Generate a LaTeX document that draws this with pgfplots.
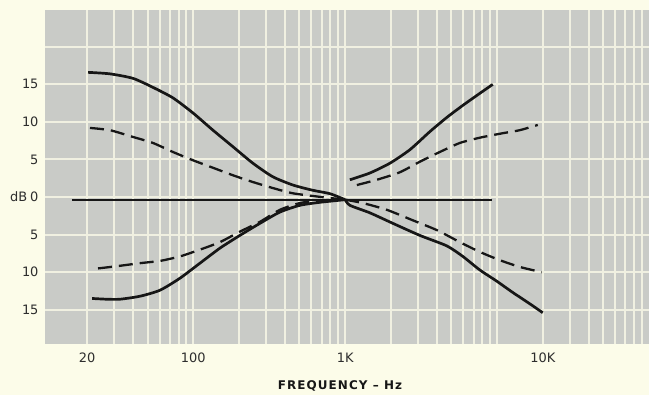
\documentclass[border=0pt]{standalone}
\usepackage{fontspec}
\setmainfont{DejaVu Sans}
\newfontfamily\labfont[LetterSpace=9]{DejaVu Sans}
\usepackage{pgfplots}
\pgfplotsset{compat=1.18}
\definecolor{cream}{RGB}{252,252,233}
\definecolor{panel}{RGB}{201,203,199}
\definecolor{gridc}{RGB}{240,240,225}
\definecolor{ink}{RGB}{22,22,22}
\begin{document}
\begin{tikzpicture}
\path[use as bounding box, fill=cream] (-45bp,-51bp) rectangle (604bp,344bp);
\begin{axis}[
  at={(0,0)}, anchor=south west, scale only axis,
  width=604bp, height=334bp,
  xmode=log, xmin=10.57, xmax=100000, ymin=-19.56, ymax=24.9,
  axis background/.style={fill=panel},
  axis line style={draw=none},
  xtick={20,100,1000,20000}, xticklabels={20,100,1K,10K},
  minor xtick={20,30,40,50,60,70,80,90,100,200,300,400,500,600,700,800,900,1000,2000,3000,4000,5000,6000,7000,8000,9000,10000,20000,30000,40000,50000,60000,70000,80000,90000},
  ytick={-15,-10,-5,0,5,10,15,20},
  yticklabels={15,10,5,{dB\hspace{3bp}0},5,10,15,{}},
  xmajorgrids=false, xminorgrids=true, ymajorgrids=true,
  major grid style={gridc, line width=2bp},
  minor grid style={gridc, line width=2bp},
  major tick length=0pt, minor tick length=0pt,
  tick style={draw=none},
  ticklabel style={font=\fontsize{13}{15}\selectfont, text=ink!90},
  xticklabel style={anchor=center, yshift=-14bp},
  yticklabel style={anchor=east, xshift=-3bp},
  clip=true,
]
% flat response
\addplot[ink, line width=2bp] coordinates {(15.9,-0.35) (9226,-0.35)};
% bass boost, full
\addplot[ink, line width=2.7bp, smooth, tension=0.4] coordinates {
(20.3,16.6) (28.3,16.4) (40.1,15.8) (54.3,14.6) (73.5,13.2) (99.5,11.2) (134.8,8.9) (182.5,6.7) (247,4.5) (334,2.7) (453,1.6) (613,0.9) (793,0.45) (1000,-0.35)};
% bass boost, half
\addplot[ink, line width=2.3bp, dash pattern=on 14bp off 7bp, smooth, tension=0.4] coordinates {
(20.9,9.2) (28.3,8.9) (40.1,8.0) (54.3,7.2) (73.5,6.0) (99.5,4.9) (134.8,3.9) (182.5,2.9) (247,2.0) (334,1.2) (453,0.5) (700,0.0) (1000,-0.35)};
% bass cut, half
\addplot[ink, line width=2.3bp, dash pattern=on 14bp off 7bp, smooth, tension=0.4] coordinates {
(23.6,-9.5) (31.5,-9.2) (44.6,-8.8) (60.4,-8.5) (81.8,-7.9) (110.7,-7.0) (149.9,-6.0) (202.9,-4.6) (274.7,-3.3) (371.8,-1.7) (503.5,-0.8) (682,-0.45) (1000,-0.35)};
% bass cut, full
\addplot[ink, line width=2.7bp, smooth, tension=0.4] coordinates {
(21.6,-13.5) (27.0,-13.6) (32.9,-13.6) (44.6,-13.2) (60.4,-12.4) (81.8,-10.8) (110.7,-8.8) (149.9,-6.8) (202.9,-5.1) (274.7,-3.5) (371.8,-2.0) (503.5,-1.1) (682,-0.7) (1000,-0.35)};
% treble boost, full
\addplot[ink, line width=2.7bp, smooth, tension=0.4] coordinates {
(1074,2.3) (1454,3.2) (1968,4.5) (2666,6.3) (3606,8.7) (4668,10.6) (5947,12.2) (7691,13.8) (9370,15.0)};
% treble boost, half
\addplot[ink, line width=2.3bp, dash pattern=on 14bp off 7bp, smooth, tension=0.4] coordinates {
(1194,1.6) (1616,2.3) (2291,3.3) (3098,4.7) (4199,6.0) (5687,7.2) (7691,7.9) (10900,8.5) (14093,8.9) (18525,9.6)};
% treble cut, half
\addplot[ink, line width=2.3bp, dash pattern=on 14bp off 7bp, smooth, tension=0.4] coordinates {
(1000,-0.35) (1307,-0.8) (1881,-1.7) (2792,-3.1) (4011,-4.4) (5687,-6.0) (7691,-7.3) (10418,-8.4) (14093,-9.3) (19679,-10.0)};
% treble cut, full
\addplot[ink, line width=2.7bp, smooth, tension=0.4] coordinates {
(1000,-0.35) (1074,-1.1) (1454,-2.1) (2061,-3.5) (3098,-5.1) (4668,-6.5) (5947,-7.9) (7691,-9.7) (9954,-11.2) (12682,-12.7) (16412,-14.2) (19980,-15.4)};
\end{axis}
\node[font=\labfont\bfseries\fontsize{12}{14}\selectfont, text=ink] at (295bp,-42bp) {FREQUENCY – Hz};
\end{tikzpicture}
\end{document}
